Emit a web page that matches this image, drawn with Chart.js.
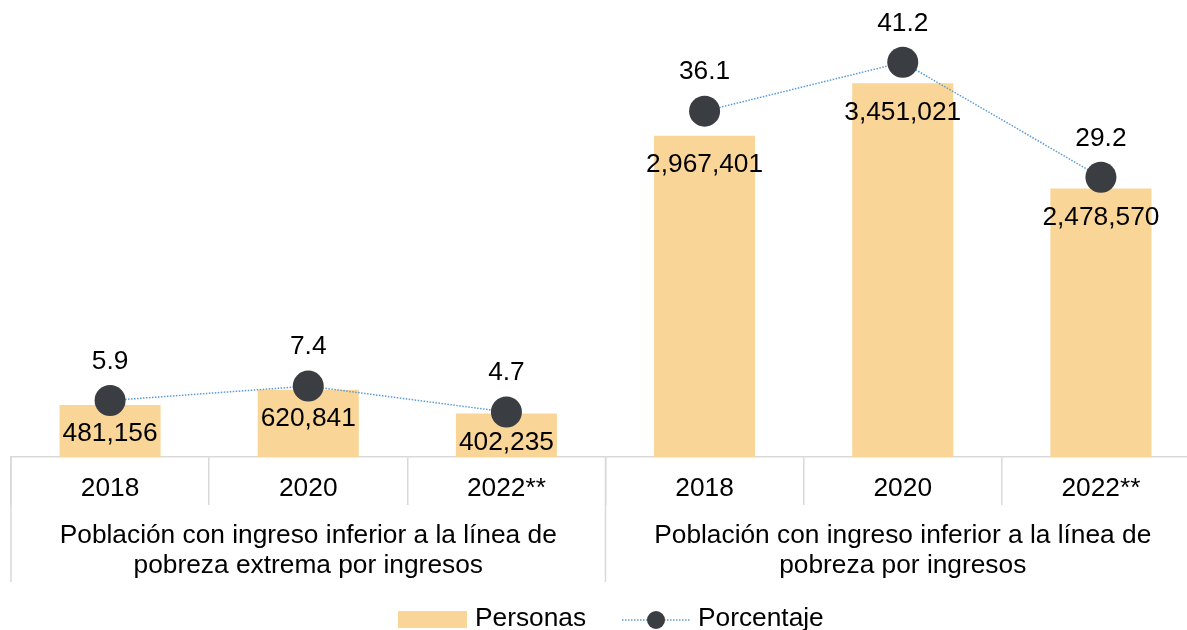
<!DOCTYPE html>
<html>
<head>
<meta charset="utf-8">
<script src="https://cdn.jsdelivr.net/npm/chart.js@4"></script>
<style>
    html, body { margin: 0; padding: 0; background: #fff; overflow: hidden; }
    #wrap { width: 1212px; height: 630px; }
</style>
</head>
<body>
<div id="wrap"><canvas id="chart" width="1212" height="630"></canvas></div>
<script>
// Chart data
const years = ['2018', '2020', '2022**', '2018', '2020', '2022**'];
const groupLabels = [
    ['Población con ingreso inferior a la línea de', 'pobreza extrema por ingresos'],
    ['Población con ingreso inferior a la línea de', 'pobreza por ingresos']
];
const personas = [481156, 620841, 402235, 2967401, 3451021, 2478570];
const porcentaje = [5.9, 7.4, 4.7, 36.1, 41.2, 29.2];

const FONT = '26.3px "Liberation Sans", Arial, sans-serif';
const BAR_COLOR = '#f9d598';
const POINT_COLOR = '#3a3d41';
const LINE_COLOR = '#5b9bd5';
const SEP_COLOR = '#d9d9d9';

const fmt = v => v.toLocaleString('en-US');

// Draws value labels, category labels, group labels and legend
const labelsPlugin = {
    id: 'labels',
    afterDatasetsDraw(chart) {
        const ctx = chart.ctx;
        ctx.save();
        ctx.font = FONT;
        ctx.fillStyle = '#000';
        ctx.textAlign = 'center';
        ctx.textBaseline = 'middle';

        chart.getDatasetMeta(1).data.forEach((bar, i) => {
            ctx.fillText(fmt(personas[i]), bar.x, bar.y + 29);
        });
        chart.getDatasetMeta(0).data.forEach((pt, i) => {
            ctx.fillText(porcentaje[i].toFixed(1), pt.x, pt.y - 39);
        });
        ctx.restore();
    },
    afterDraw(chart) {
        const ctx = chart.ctx;
        const xs = chart.scales.x;
        const area = chart.chartArea;
        const bottom = area.bottom;
        ctx.save();

        // group separators
        const mid = (xs.getPixelForValue(2) + xs.getPixelForValue(3)) / 2;
        ctx.strokeStyle = SEP_COLOR;
        ctx.lineWidth = 1.5;
        [area.left, mid, area.right].forEach(x => {
            ctx.beginPath();
            ctx.moveTo(x, bottom);
            ctx.lineTo(x, bottom + 125);
            ctx.stroke();
        });

        ctx.font = FONT;
        ctx.fillStyle = '#000';
        ctx.textAlign = 'center';
        ctx.textBaseline = 'middle';
        years.forEach((y, i) => ctx.fillText(y, xs.getPixelForValue(i), bottom + 32));

        const centers = [(area.left + mid) / 2, (mid + area.right) / 2];
        groupLabels.forEach((lines, g) => {
            lines.forEach((t, j) => ctx.fillText(t, centers[g], bottom + 79 + j * 30));
        });

        // legend
        const ly = 619;
        ctx.fillStyle = BAR_COLOR;
        ctx.fillRect(398, ly - 8, 69, 17);
        ctx.fillStyle = '#000';
        ctx.textAlign = 'left';
        ctx.fillText('Personas', 475, ly);

        ctx.strokeStyle = LINE_COLOR;
        ctx.lineWidth = 1.5;
        ctx.setLineDash([1.5, 1.5]);
        ctx.beginPath();
        ctx.moveTo(622, ly + 1);
        ctx.lineTo(690, ly + 1);
        ctx.stroke();
        ctx.setLineDash([]);
        ctx.fillStyle = POINT_COLOR;
        ctx.beginPath();
        ctx.arc(656, ly + 1, 9, 0, Math.PI * 2);
        ctx.fill();
        ctx.fillStyle = '#000';
        ctx.fillText('Porcentaje', 698, ly);

        ctx.restore();
    }
};

new Chart(document.getElementById('chart'), {
    data: {
        labels: years,
        datasets: [
            {
                type: 'line',
                label: 'Porcentaje',
                data: porcentaje,
                yAxisID: 'y1',
                order: 0,
                borderColor: LINE_COLOR,
                borderWidth: 1.5,
                borderDash: [1.5, 1.5],
                pointRadius: 15.5,
                pointHoverRadius: 15.5,
                pointBackgroundColor: POINT_COLOR,
                pointBorderColor: POINT_COLOR,
                pointBorderWidth: 0,
                tension: 0,
                segment: {
                    borderColor: c => c.p0DataIndex === 2 ? 'transparent' : LINE_COLOR
                }
            },
            {
                type: 'bar',
                label: 'Personas',
                data: personas,
                yAxisID: 'y',
                order: 1,
                backgroundColor: BAR_COLOR,
                barPercentage: 0.51,
                categoryPercentage: 1.0
            }
        ]
    },
    options: {
        responsive: false,
        animation: false,
        devicePixelRatio: 1,
        layout: { autoPadding: false, padding: { left: 11, right: 12, top: 0, bottom: 0 } },
        plugins: {
            legend: { display: false },
            tooltip: { enabled: false }
        },
        scales: {
            x: {
                offset: true,
                ticks: { display: false },
                grid: {
                    display: true,
                    drawOnChartArea: false,
                    offset: true,
                    tickLength: 48,
                    color: SEP_COLOR,
                    lineWidth: 1.5
                },
                border: { display: true, color: SEP_COLOR, width: 1.5 },
                afterFit(scale) { scale.height = 173; }
            },
            y: { display: false, min: 0, max: 4220000 },
            y1: { display: false, min: 0, max: 47.7, position: 'right' }
        }
    },
    plugins: [labelsPlugin]
});
</script>
</body>
</html>
